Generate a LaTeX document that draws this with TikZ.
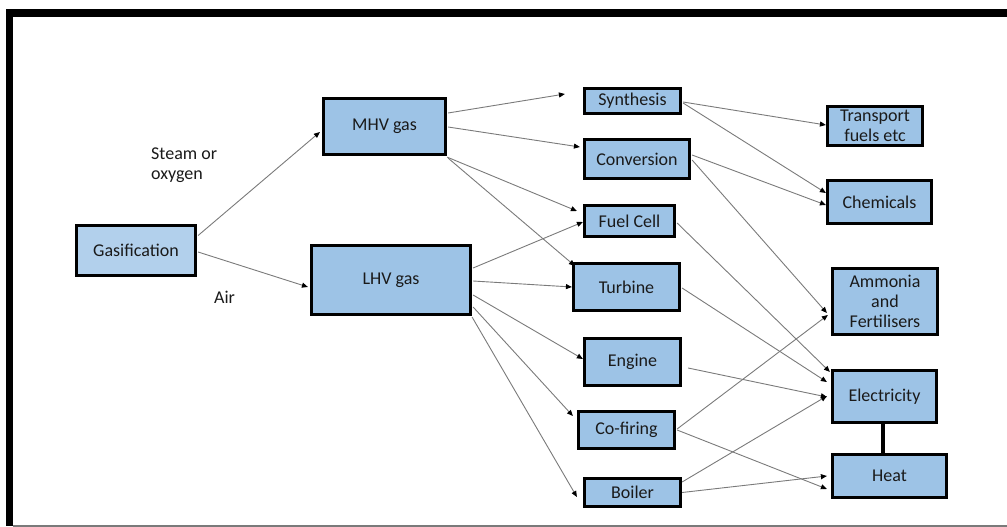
\documentclass[tikz,border=0pt]{standalone}
\usepackage{fontspec}
\setmainfont{Carlito}
\usetikzlibrary{arrows.meta,calc}
\definecolor{boxblue}{HTML}{9DC3E6}
\definecolor{boxlight}{HTML}{B2D0EC}
\definecolor{linegray}{HTML}{7A7A7A}
\definecolor{txt}{HTML}{1A1A1A}
\tikzset{
  box/.style={draw=black, line width=3.2pt, fill=boxblue, rectangle, inner sep=0pt,
    text=txt, align=center, font=\fontsize{18}{20}\selectfont},
  conn/.style={draw=linegray, line width=0.9pt,
    -{Triangle[length=6pt,width=5pt,color=black]}},
  lbl/.style={text=txt, font=\fontsize{18}{20}\selectfont, inner sep=0pt, align=left}
}
\begin{document}
\begin{tikzpicture}[x=1pt,y=-1pt]
\useasboundingbox (0,0) rectangle (1007,527);
% frame
\fill[black] (6,9) rectangle (1007,17);
\fill[black] (6,9) rectangle (13,526);
\draw[linegray, line width=1.5pt] (13,526) -- (1007,526);

% nodes
\node[box, fill=boxlight, minimum width=119pt, minimum height=50pt] (gas) at (136,250.5) {Gasification};
\node[box, minimum width=122pt, minimum height=56pt] (mhv) at (384.5,126.5) {MHV gas};
\node[box, minimum width=159pt, minimum height=69pt] (lhv) at (391,280) {LHV gas};
\node[box, minimum width=96pt, minimum height=25pt] (syn) at (632.5,101) {Synthesis};
\node[box, minimum width=105pt, minimum height=39pt] (conv) at (637,159) {Conversion};
\node[box, minimum width=90pt, minimum height=31pt] (fc) at (629.5,221) {Fuel Cell};
\node[box, minimum width=106pt, minimum height=47pt] (turb) at (626.5,287) {Turbine};
\node[box, minimum width=96pt, minimum height=47pt] (eng) at (632.5,362) {Engine};
\node[box, minimum width=96pt, minimum height=37pt] (cof) at (626.5,430) {Co-firing};
\node[box, minimum width=96pt, minimum height=28pt] (boil) at (632.5,492.5) {Boiler};
\node[box, minimum width=95pt, minimum height=39pt] (tran) at (875,126) {Transport\\fuels etc};
\node[box, minimum width=104pt, minimum height=43pt] (chem) at (879.5,202) {Chemicals};
\node[box, minimum width=105pt, minimum height=66pt] (amm) at (885,301.5) {Ammonia\\and\\Fertilisers};
\node[box, minimum width=104pt, minimum height=52pt] (elec) at (884.5,396.5) {Electricity};
\node[box, minimum width=114pt, minimum height=43pt] (heat) at (889.5,476) {Heat};

% labels
\node[lbl, anchor=west] (steam) at (151,165) {Steam or\\oxygen};
\node[lbl, anchor=west] (air) at (214,297) {Air};

% connectors
\draw[conn] ($(gas.east)+(1,-15)$) -- ($(mhv.west)+(-2,5.5)$);
\draw[conn] ($(gas.east)+(1,1.5)$) -- ($(lhv.west)+(-2,7)$);
\draw[conn] ($(mhv.east)+(1,-13.5)$) -- ($(syn.west)+(-18,-7)$);
\draw[conn] ($(mhv.east)+(1,0.5)$) -- ($(conv.west)+(-3,-12)$);
\draw[conn] ($(mhv.south east)+(0,1)$) -- ($(fc.west)+(-6,-10)$);
\draw[conn] ($(mhv.south east)+(1,2)$) -- ($(turb.north west)+(3,4)$);
\draw[conn] ($(lhv.east)+(1,-12)$) -- ($(fc.west)+(0,1)$);
\draw[conn] ($(lhv.east)+(1,1)$) -- ($(turb.west)+(0,0)$);
\draw[conn] ($(lhv.east)+(1,15)$) -- ($(eng.west)+(0,-3)$);
\draw[conn] ($(lhv.east)+(1,27)$) -- ($(cof.west)+(-4,-14)$);
\draw[conn] ($(lhv.south east)+(0,1)$) -- ($(boil.west)+(-6,4.5)$);
\draw[conn] ($(syn.east)+(1,1)$) -- ($(tran.west)+(0,-1)$);
\draw[conn] ($(syn.east)+(1,2)$) -- ($(chem.west)+(0,-9)$);
\draw[conn] ($(conv.east)+(1,-4)$) -- ($(chem.west)+(0,3)$);
\draw[conn] ($(conv.east)+(1,1)$) -- ($(amm.west)+(-4,11.5)$);
\draw[conn] ($(fc.east)+(1,2)$) -- ($(elec.north west)+(-1,3)$);
\draw[conn] ($(turb.east)+(1,1)$) -- ($(elec.west)+(-4,-14.5)$);
\draw[conn] ($(eng.east)+(6,6)$) -- ($(elec.west)+(-4,0.5)$);
\draw[conn] ($(cof.east)+(1,-1)$) -- ($(amm.west)+(-3,13.5)$);
\draw[conn] ($(cof.east)+(1,0)$) -- ($(heat.west)+(-4,13)$);
\draw[conn] ($(boil.east)+(0,-10.5)$) -- ($(elec.west)+(-4,-0.5)$);
\draw[conn] ($(boil.east)+(0,0)$) -- ($(heat.west)+(-4,0)$);
\draw[black, line width=4pt] ($(elec.south)+(-1.5,0)$) -- ($(heat.north)+(-6.5,0)$);
\end{tikzpicture}
\end{document}
